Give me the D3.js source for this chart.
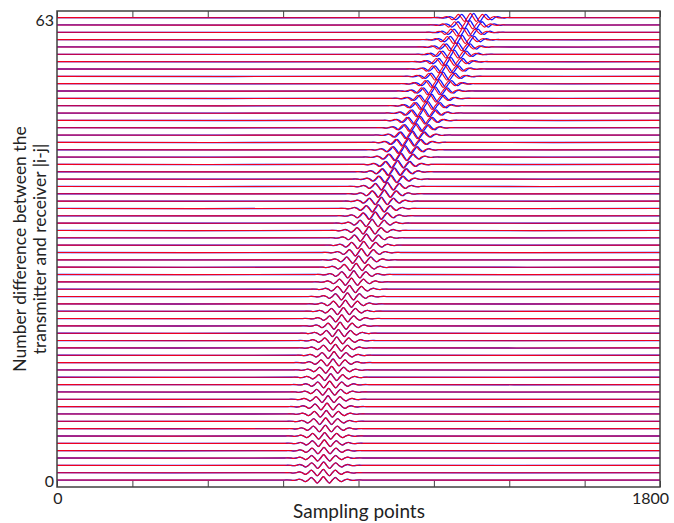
<!DOCTYPE html>
<html><head><meta charset="utf-8">
<script src="https://cdn.jsdelivr.net/npm/d3@7"></script>
<style>body{margin:0;background:#fff}svg text{font-family:Lato,"Open Sans",sans-serif;fill:#222}</style>
</head><body><svg id="c" width="674" height="523"></svg>
<script>
// trace index 0..63 -> arrival centre (sampling points) of the red series
const redCenters = [795,795,796,796,797,798,799,801,802,804,806,809,811,814,817,820,824,827,831,835,840,845,850,855,861,867,873,879,886,893,900,908,915,923,931,940,949,958,967,976,985,995,1005,1015,1025,1036,1047,1058,1069,1080,1091,1102,1113,1124,1135,1146,1157,1168,1179,1190,1201,1212,1223,1234];
// blue series shift relative to red (sampling points)
const blueShift = [0,0,0,0,0,0,0,0,0,0,0,0,0,0,0,0,0,0,0,0,0,0,0,0,0,0,0,0,0,0,1,1,1,1,1,1,2,2,2,2,2,3,3,3,3,4,4,4,5,5,5,6,6,6,7,7,7,8,8,8,9,9,10,10];
// amplitude (trace units)
const amplitudes = [0.46,0.46,0.46,0.46,0.46,0.47,0.47,0.47,0.47,0.47,0.48,0.48,0.48,0.48,0.48,0.49,0.49,0.49,0.49,0.49,0.50,0.50,0.50,0.50,0.50,0.51,0.51,0.51,0.51,0.51,0.52,0.52,0.52,0.52,0.52,0.53,0.53,0.53,0.53,0.53,0.54,0.54,0.54,0.54,0.54,0.55,0.55,0.55,0.55,0.55,0.56,0.56,0.56,0.56,0.56,0.57,0.57,0.57,0.57,0.57,0.58,0.58,0.58,0.58];
// pulse shape: offsets (sampling points) and normalised values
const pulseOffsets = [-117,-108,-99,-90,-81,-72,-63,-54,-45,-36,-27,-18,-9,0,9,18,27,36,45,54,63,72,81,90,99,108,117];
const pulseValues = [0,0.03,0,-0.1,0,0.25,0,-0.5,0,0.75,0,-0.92,0,1,0,-0.92,0,0.75,0,-0.5,0,0.25,0,-0.1,0,0.03,0];
const xTicks = [0,225,450,675,900,1125,1350,1575,1800];
const xLabels = ["0","1800"];
const yLabels = ["0","63"];

const svg = d3.select("#c");
const L=57,R=660,T=11,B=487;
const x = d3.scaleLinear().domain([0,1800]).range([L,R]);
const y = d3.scaleLinear().domain([-0.95,63.9]).range([B,T]);

svg.append("defs").append("clipPath").attr("id","clip").append("rect")
  .attr("x",L).attr("y",T).attr("width",R-L).attr("height",B-T);

function tracePoints(i, centre){
  const pts=[[0,i]];
  pulseOffsets.forEach((o,k)=>pts.push([centre+o, i+amplitudes[i]*pulseValues[k]]));
  pts.push([1800,i]);
  return pts;
}
const line = d3.line().x(d=>x(d[0])).y(d=>y(d[1])).curve(d3.curveCatmullRom);
const g = svg.append("g").attr("clip-path","url(#clip)");
redCenters.forEach((c,i)=>{
  g.append("path").attr("d",line(tracePoints(i,c+blueShift[i])))
    .attr("fill","none").attr("stroke","#1010ff").attr("stroke-width",1.3);
});
redCenters.forEach((c,i)=>{
  g.append("path").attr("d",line(tracePoints(i,c)))
    .attr("fill","none").attr("stroke","#f00020").attr("stroke-width",1.1);
});

// frame
svg.append("rect").attr("x",L).attr("y",T).attr("width",R-L).attr("height",B-T)
  .attr("fill","none").attr("stroke","#404040").attr("stroke-width",1.5);
// inward ticks top and bottom
const xb = d3.axisBottom(x).tickValues(xTicks).tickSize(-6).tickFormat("");
const xt = d3.axisTop(x).tickValues(xTicks).tickSize(-6).tickFormat("");
svg.append("g").attr("transform",`translate(0,${B})`).call(xb).call(s=>s.select(".domain").remove()).selectAll("line").attr("stroke","#404040");
svg.append("g").attr("transform",`translate(0,${T})`).call(xt).call(s=>s.select(".domain").remove()).selectAll("line").attr("stroke","#404040");

// labels
svg.append("text").attr("x",x(0)+1).attr("y",504).attr("text-anchor","middle").attr("font-size",16).text(xLabels[0]);
svg.append("text").attr("x",669).attr("y",504).attr("text-anchor","end").attr("font-size",16).text(xLabels[1]);
svg.append("text").attr("x",L-3).attr("y",y(0)+7).attr("text-anchor","end").attr("font-size",16).text(yLabels[0]);
svg.append("text").attr("x",L-3).attr("y",y(63)+8.5).attr("text-anchor","end").attr("font-size",16).text(yLabels[1]);
svg.append("text").attr("x",359).attr("y",518).attr("text-anchor","middle").attr("font-size",19).text("Sampling points");
const yt = svg.append("text").attr("transform",`translate(0,${(T+B)/2}) rotate(-90)`).attr("text-anchor","middle").attr("font-size",17.5);
yt.append("tspan").attr("x",0).attr("y",26).text("Number difference between the");
yt.append("tspan").attr("x",0).attr("y",46).text("transmitter and receiver |i-j|");
</script></body></html>
